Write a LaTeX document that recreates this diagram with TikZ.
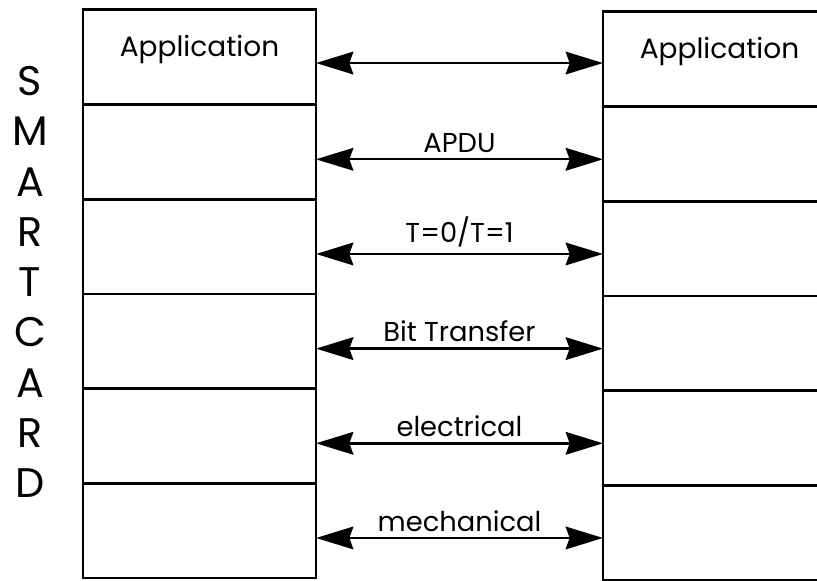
\documentclass[tikz,border=0pt]{standalone}
\usepackage{fontspec}
\setmainfont{Poppins}
\usepackage{tikz}
\usetikzlibrary{arrows.meta,positioning,calc}
\tikzset{
  layer/.style={draw=black,line width=2.2pt,minimum width=174.75pt,minimum height=71pt,inner sep=0pt,outer sep=0pt},
  duplex/.style={{Stealth[length=28pt,width=17pt,inset=3pt]}-{Stealth[length=28pt,width=17pt,inset=3pt]},line width=1.8pt},
  proto/.style={font=\fontsize{20.5}{24}\selectfont,inner sep=1pt},
  apptext/.style={font=\fontsize{21}{24}\selectfont},
}

\begin{document}
\begin{tikzpicture}[x=0.75pt,y=-0.75pt]
    \clip (0,0) rectangle (817,581);
    % two stacks of six layers
    \node[layer] (L1) at (199.5,57.3) {};
    \node[layer] (R1) at (719.5,59.3) {};
    \foreach \i [remember=\i as \prev (initially 1)] in {2,...,6}{
      \node[layer,below=0pt of L\prev] (L\i) {};
      \node[layer,below=0pt of R\prev] (R\i) {};
    }
    \node[apptext] (appL) at ([yshift=6pt]L1.center) {Application};
    \node[apptext] (appR) at ([yshift=6pt]R1.center) {Application};
    \node[align=center,font=\fontsize{31}{37.7}\selectfont] (card) at (30,282) {S\\M\\A\\R\\T\\C\\A\\R\\D};
    % peer arrows
    \draw[duplex] ([yshift=-4.3pt]L1.east) -- ([yshift=-4.3pt]L1.east -| R1.west);
    \draw[duplex] ([yshift=-5.5pt]L2.east) -- ([yshift=-5.5pt]L2.east -| R2.west) node[midway,above=3pt,proto] (p2) {APDU};
    \draw[duplex] ([yshift=-5.5pt]L3.east) -- ([yshift=-5.5pt]L3.east -| R3.west) node[midway,above=3pt,proto] (p3) {T=0/T=1};
    \draw[duplex] ([yshift=-5.5pt]L4.east) -- ([yshift=-5.5pt]L4.east -| R4.west) node[midway,above=3pt,proto] (p4) {Bit Transfer};
    \draw[duplex] ([yshift=-5.5pt]L5.east) -- ([yshift=-5.5pt]L5.east -| R5.west) node[midway,above=3pt,proto] (p5) {electrical};
    \draw[duplex] ([yshift=-5.5pt]L6.east) -- ([yshift=-5.5pt]L6.east -| R6.west) node[midway,above=3pt,proto] (p6) {mechanical};
\end{tikzpicture}
\end{document}
